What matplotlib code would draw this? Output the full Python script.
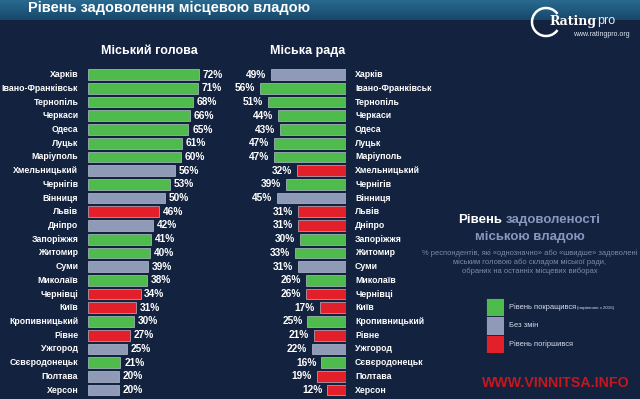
import matplotlib
matplotlib.use("Agg")
import matplotlib.pyplot as plt
from matplotlib.patches import Arc, Rectangle
import numpy as np

cities = ["Харків", "Івано-Франківськ", "Тернопіль", "Черкаси", "Одеса", "Луцьк",
          "Маріуполь", "Хмельницький", "Чернігів", "Вінниця", "Львів", "Дніпро",
          "Запоріжжя", "Житомир", "Суми", "Миколаїв", "Чернівці", "Київ",
          "Кропивницький", "Рівне", "Ужгород", "Сєвєродонецьк", "Полтава", "Херсон"]

# Міський голова
mayor = [72, 71, 68, 66, 65, 61, 60, 56, 53, 50, 46, 42, 41, 40, 39, 38, 34, 31, 30, 27, 25, 21, 20, 20]
mayor_trend = ["up", "up", "up", "up", "up", "up", "up", "same", "up", "same", "down", "same",
               "up", "up", "same", "up", "down", "down", "up", "down", "same", "up", "same", "same"]

# Міська рада
council = [49, 56, 51, 44, 43, 47, 47, 32, 39, 45, 31, 31, 30, 33, 31, 26, 26, 17, 25, 21, 22, 16, 19, 12]
council_trend = ["same", "up", "up", "up", "up", "up", "up", "down", "up", "same", "down", "down",
                 "up", "up", "same", "up", "down", "down", "up", "down", "same", "up", "down", "down"]

legend_keys = ["up", "same", "down"]
legend_labels = ["Рівень покращився", "Без змін", "Рівень погіршився"]

colors = {"up": "#4fbb4c", "same": "#8e9ab6", "down": "#e3202a"}
BG = "#13223f"
SANS = ["Liberation Sans", "DejaVu Sans"]

W, H = 640, 399
fig = plt.figure(figsize=(6.4, 3.99), dpi=100)
fig.patch.set_facecolor(BG)

def fx(px):
    return px / W

def fy(py):
    return 1 - py / H

# верхня смуга із заголовком
band = fig.add_axes([0, fy(20), 1, 20 / H])
grad = np.linspace(0, 1, 50).reshape(-1, 1)
cmap = matplotlib.colors.LinearSegmentedColormap.from_list("band", ["#2a6a90", "#17476a"])
band.imshow(grad, aspect="auto", cmap=cmap, extent=[0, 1, 0, 1])
band.axis("off")
fig.text(fx(28), fy(8), "Рівень задоволення місцевою владою", color="white",
         fontsize=10.5, fontweight="bold", family=SANS, va="center", ha="left")

n = len(cities)
y = np.arange(n)
row_top, row_bot = 67.8, 396.9

# ліва панель - міський голова
px_per = 1.545
ax1 = fig.add_axes([fx(88), fy(row_bot), fx(100 * px_per), (row_bot - row_top) / H])
ax1.barh(y, mayor, height=0.78, color=[colors[t] for t in mayor_trend],
         edgecolor="#cfd8e6", linewidth=0.4)
ax1.set_xlim(0, 100)
ax1.set_ylim(n - 0.5, -0.5)
ax1.axis("off")
for i, (c, v) in enumerate(zip(cities, mayor)):
    ax1.text(-6.3, i, c, ha="right", va="center", color="white", fontsize=6.3,
             fontweight="bold", family=SANS, clip_on=False)
    ax1.text(v + 2.4, i, f"{v}%", ha="left", va="center", color="white", fontsize=7.3,
             fontweight="bold", family=SANS, clip_on=False)

# середня панель - міська рада
px_per2 = 1.53
ax2 = fig.add_axes([fx(345.7 - 100 * px_per2), fy(row_bot), fx(100 * px_per2), (row_bot - row_top) / H])
ax2.patch.set_alpha(0)
ax2.barh(y, council, height=0.78, color=[colors[t] for t in council_trend],
         edgecolor="#cfd8e6", linewidth=0.4)
ax2.set_xlim(100, 0)
ax2.set_ylim(n - 0.5, -0.5)
ax2.axis("off")
for i, (c, v) in enumerate(zip(cities, council)):
    ax2.text(-6.1, i, c, ha="left", va="center", color="white", fontsize=6.3,
             fontweight="bold", family=SANS, clip_on=False)
    ax2.text(v + 3.2, i, f"{v}%", ha="right", va="center", color="white", fontsize=7.3,
             fontweight="bold", family=SANS, clip_on=False)

fig.text(fx(149), fy(50.5), "Міський голова", color="white", fontsize=9, fontweight="bold",
         family=SANS, ha="center", va="center")
fig.text(fx(307.5), fy(51), "Міська рада", color="white", fontsize=9, fontweight="bold",
         family=SANS, ha="center", va="center")

# права частина - пояснення
fig.text(fx(502), fy(220), "Рівень", color="white", fontsize=9.5, fontweight="bold",
         family=SANS, ha="right", va="center")
fig.text(fx(506), fy(220), "задоволеності", color="#8797bd", fontsize=9.5, fontweight="bold",
         family=SANS, ha="left", va="center")
fig.text(fx(530), fy(237), "міською владою", color="#8797bd", fontsize=9.5, fontweight="bold",
         family=SANS, ha="center", va="center")
fig.text(fx(530), fy(262),
         "% респондентів, які «однозначно» або «швидше» задоволені\n"
         "міським головою або складом міської ради,\n"
         "обраних на останніх місцевих виборах",
         color="#7f8ca6", fontsize=5.4, family=SANS, ha="center", va="center", linespacing=1.25)

lax = fig.add_axes([fx(486), fy(353), fx(18), 55 / H])
lax.set_xlim(0, 1)
lax.set_ylim(len(legend_keys), 0)
lax.axis("off")
for i, (k, lab) in enumerate(zip(legend_keys, legend_labels)):
    lax.add_patch(Rectangle((0, i), 1, 1, facecolor=colors[k], edgecolor=BG, linewidth=0.6))
    lax.text(1.3, i + 0.5, lab, color="#d6dceb", fontsize=5.4, family=SANS, ha="left", va="center")
fig.text(fx(577), fy(308.5), "(порівняно з 2016)", color="#d6dceb", fontsize=3.2, family=SANS,
         ha="left", va="center")

# логотип
logo = fig.add_axes([fx(530), fy(45), fx(110), 45 / H])
logo.set_xlim(0, 110)
logo.set_ylim(0, 45)
logo.axis("off")
logo.add_patch(Arc((16, 23), 28, 28, theta1=35, theta2=325, color="white", linewidth=1.8))
logo.text(67, 24, "Rating", color="white", fontsize=9, fontweight="bold",
          family=["DejaVu Serif"], ha="right", va="center")
logo.text(67.5, 24, "pro", color="#e8eef5", fontsize=9, family=SANS, ha="left", va="center")
logo.text(43, 11, "www.ratingpro.org", color="#dfe6ee", fontsize=5, family=SANS,
          ha="left", va="center")

# водяний знак
fig.text(fx(555.5), fy(383), "WWW.VINNITSA.INFO", color="#c4171f", fontsize=10.2,
         fontweight="bold", family=SANS, ha="center", va="center")

fig.savefig("out.png", dpi=100, facecolor=BG)
